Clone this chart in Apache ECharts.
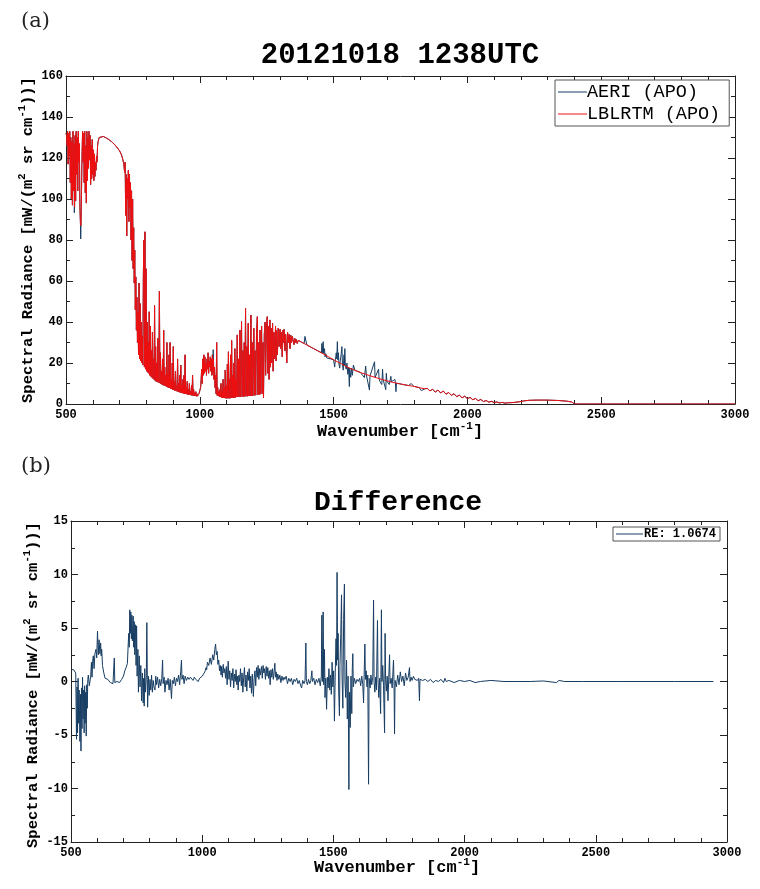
<!DOCTYPE html>
<html><head><meta charset="utf-8">
<script src="https://cdn.jsdelivr.net/npm/echarts@6/dist/echarts.min.js"></script>
<style>html,body{margin:0;padding:0;background:#fff}#c{width:760px;height:889px}</style>
</head><body><div id="c"></div>
<script>
// ---------- data ----------
const panelLabels = ['(a)', '(b)'];
const titles = ['20121018 1238UTC', 'Difference'];
const seriesNames = ['AERI (APO)', 'LBLRTM (APO)', 'RE: 1.0674'];
const xRange = [500, 3000, 500];
const yRangeTop = [0, 160, 20];
const yRangeBottom = [-15, 15, 5];

// LBLRTM simulated radiance [wavenumber, radiance]
const lblrtm = [[500,132],[502,131],[504,126],[506,133],[508,117],[510,132],[512,121],[514,133],[516,108],[518,130],[520,100],[522,128],[524,97],[526,133],[528,104],[530,127],[532,96],[534,131],[536,99],[538,133],[540,112],[542,130],[544,104],[546,133],[548,118],[550,127],[552,96],[554,88],[556,87],[558,104],[560,122],[562,133],[564,118],[566,132],[568,108],[570,133],[572,103],[574,126],[576,98],[578,133],[580,109],[582,130],[584,115],[586,133],[588,119],[590,131],[592,107],[594,126],[596,110],[598,129],[600,112],[602,124],[604,109],[606,122],[608,111],[610,118],[612,114],[614,121],[616,118],[618,126],[620,128],[624,130],[630,130.8],[640,130.5],[650,129.8],[660,129],[670,128],[680,126.8],[690,125.3],[700,123.5],[706,122],[712,119.5],[716,117],[719,113],[721,118],[723,92],[725,112],[727,82],[729,110],[731,100],[733,114],[735,89],[737,112],[739,96],[741,108],[743,80],[745,104],[747,70],[749,100],[751,66],[753,86],[755,59],[757,75],[759,46],[761,62],[763,36],[765,52],[767,30],[769,45],[771,24],[773,59],[775,22],[777,49],[779,21],[781,40],[783,20],[785,33],[787,19],[789,62],[791,80],[793,18],[795,84],[797,17],[799,66],[801,16],[803,40],[805,15.5],[807,30],[809,15],[811,45],[813,14],[815,38],[817,13.5],[819,26],[821,13],[823,35],[825,12.5],[827,22],[829,12],[831,48],[833,11.5],[835,28],[837,11],[839,20],[841,10.8],[843,32],[845,10.5],[847,18],[849,55],[851,10.2],[853,25],[855,9.8],[857,16],[859,9.5],[861,22],[863,9.2],[865,36],[867,9],[869,18],[871,8.8],[873,14],[875,8.5],[877,30],[879,8.2],[881,15],[883,8],[885,24],[887,7.8],[889,30],[891,7.5],[893,12],[895,7.3],[897,20],[899,7],[901,28],[903,6.8],[905,11],[907,6.6],[909,16],[911,6.4],[913,9],[915,6.2],[917,22],[919,6],[921,10],[923,5.8],[925,14],[927,5.6],[929,19],[931,5.4],[933,9],[935,5.3],[937,12],[939,5.2],[941,14],[943,5],[945,24],[947,4.9],[949,8],[951,4.8],[953,11],[955,4.6],[957,7],[959,4.5],[961,10],[963,4.4],[965,6],[967,4.3],[969,9],[971,4.2],[973,14],[975,4.1],[977,7],[979,4],[981,5.5],[983,3.9],[985,6],[987,3.8],[989,5],[991,3.8],[993,4.5],[995,3.9],[997,5],[1000,4.5],[1003,8],[1005,12],[1007,17],[1009,10],[1011,22],[1013,14],[1015,24],[1017,15],[1019,23],[1021,16],[1023,20],[1025,14],[1027,22],[1029,17],[1031,25],[1033,15],[1035,21],[1037,18],[1039,23],[1041,16],[1043,22],[1045,14],[1047,24],[1049,15],[1051,22],[1053,12],[1055,18],[1057,8],[1059,14],[1061,5],[1063,30],[1065,4.2],[1067,8],[1069,4],[1071,6],[1073,3.6],[1075,7],[1077,3.4],[1079,10],[1081,3.2],[1083,6],[1085,3],[1087,12],[1089,3],[1091,8],[1093,2.9],[1095,16.6],[1097,2.8],[1099,9],[1101,2.8],[1103,19.5],[1105,2.8],[1107,25.5],[1109,2.8],[1111,12],[1113,2.8],[1115,24],[1117,3],[1119,31],[1121,3],[1123,14],[1125,3],[1127,20],[1129,3.2],[1131,27],[1133,3.2],[1135,12],[1137,3.4],[1140,33.7],[1142,3.4],[1145,22],[1147,3.5],[1150,36],[1152,3.5],[1154,18],[1156,40.2],[1158,3.6],[1161,26],[1163,3.6],[1166,30],[1168,3.7],[1171,46.7],[1173,3.8],[1176,28],[1178,3.8],[1181,39.4],[1183,3.9],[1186,24],[1188,3.9],[1191,43.4],[1193,4],[1196,30],[1198,4],[1202,36.9],[1204,4.2],[1207,26],[1209,4.3],[1212,34],[1215,42.6],[1217,4.5],[1220,30],[1222,4.6],[1225,36],[1227,4.8],[1231,38],[1233,5],[1236,30],[1238,3],[1241,34],[1244,40],[1246,14],[1249,36],[1252,42.6],[1254,15],[1257,38],[1259,12],[1262,41],[1264,18],[1267,37],[1269,20],[1272,39.4],[1274,16],[1277,35],[1280,22],[1283,38],[1285,21],[1287,36],[1290,24],[1293,37],[1296,28],[1300,36.5],[1302,27],[1305,35],[1308,23],[1311,36],[1313,30],[1315,36.4],[1318,26],[1321,34],[1325,20],[1328,35],[1331,30],[1334,34],[1337,27],[1340,33.5],[1343,30],[1346,33],[1349,32.8],[1352,29],[1355,32],[1358,30],[1361,31.5],[1364,29.5],[1368,31],[1372,30.5],[1380,30.2],[1390,29.5],[1400,28.8],[1420,27.4],[1440,26],[1460,24.6],[1480,23.1],[1500,21.6],[1520,20.2],[1540,18.8],[1560,17.5],[1580,16.4],[1600,15.4],[1620,14.5],[1640,13.6],[1660,12.8],[1680,12],[1700,11.3],[1720,10.6],[1740,10],[1760,9.5],[1780,9],[1800,8.6],[1820,8],[1840,7.4],[1850,7.6],[1860,6.4],[1870,7.2],[1880,5.8],[1890,6.8],[1900,5.4],[1910,6.3],[1920,4.8],[1930,5.6],[1940,4.2],[1950,5],[1960,3.6],[1970,4.3],[1980,3],[1990,3.8],[2000,2.6],[2010,3.2],[2020,2.1],[2030,2.7],[2040,1.6],[2050,2.2],[2060,1.2],[2070,1.7],[2080,0.9],[2090,1.3],[2100,0.7],[2110,1.0],[2120,0.5],[2130,0.8],[2140,0.4],[2150,0.6],[2170,0.7],[2190,1.0],[2210,1.5],[2230,1.8],[2260,1.9],[2300,1.9],[2340,1.7],[2370,1.4],[2390,1.0],[2400,0],[3000,0]];

// AERI measured radiance: points where it departs from LBLRTM
const aeriDepartures = [[531,93.3],[555,80.5],[1050,26.5],[1393,33],[1455,25],[1456,29.5],[1458,24.8],[1461,30.4],[1463,24.5],[1466,27],[1468,23],[1471,24.5],[1474,22.5],[1504,18],[1507,21.8],[1510,25],[1512,22],[1514,30.4],[1516,21.5],[1518,25],[1520,19.5],[1523,17.5],[1525,21],[1528,24],[1531,28],[1533,19.5],[1536,16.5],[1539,24],[1542,27],[1544,18.6],[1547,17],[1550,20],[1553,14.5],[1556,18],[1559,8.5],[1561,16.5],[1564,13],[1567,17.5],[1570,14],[1574,19],[1615,12.9],[1620,18.5],[1622,14.5],[1634,6.8],[1636,13.7],[1653,20.6],[1655,12.9],[1668,17],[1670,12.4],[1673,11],[1680,9.5],[1683,17],[1685,12],[1695,7],[1697,15],[1699,11.2],[1708,9.5],[1714,13.5],[1716,10.8],[1729,12],[1731,10.3],[1733,6],[1735,10.2],[1790,10],[1828,6.5]];

// Difference AERI - LBLRTM
const difference = [[500,1.1],[505,1.1],[510,1.1],[515,1.1],[518,0.8],[521,-5.4],[523,-0.5],[525,-4.8],[527,0.3],[529,-3.9],[531,-0.8],[534,-5.6],[536,-1.2],[538,-6.5],[540,-0.6],[542,-4.4],[544,0.4],[546,-3.5],[548,-0.8],[550,-4.8],[552,-0.4],[554,-3.9],[556,-1.0],[558,-5.1],[560,-0.3],[562,-2.5],[564,0.2],[566,0.6],[570,-0.4],[575,0.5],[578,1.8],[580,0.4],[583,2.0],[585,2.4],[588,1.2],[591,2.6],[595,3.0],[598,2.2],[601,4.7],[604,2.5],[607,3.9],[610,2.6],[613,3.6],[615,2.4],[617,3.0],[620,1.5],[625,0.8],[630,0.3],[640,0.2],[650,-0.1],[660,-0.2],[665,2.2],[667,-0.1],[675,0.0],[685,-0.1],[693,0.2],[700,0.5],[705,1.0],[710,1.3],[715,1.7],[718,3.5],[720,4.5],[722,3.2],[724,6.7],[726,4.5],[728,6.5],[730,4.0],[732,6.2],[734,3.8],[737,6.1],[739,3.2],[741,5.6],[743,2.5],[746,5.3],[748,1.5],[750,5.2],[752,0.5],[755,3.0],[757,-1.0],[760,2.4],[763,-0.5],[766,1.5],[769,-1.8],[772,0.8],[775,-2.0],[777,0.3],[779,-2.3],[781,1.2],[784,-1.0],[787,0.4],[789,5.5],[791,0.2],[792,-2.4],[795,0.5],[798,-1.3],[801,0.2],[804,-0.8],[807,0.6],[810,-1.0],[813,0.1],[816,-0.5],[820,-0.8],[823,0.5],[826,-0.3],[830,0.4],[834,-0.6],[838,0.2],[842,-0.4],[846,0.3],[849,2.0],[851,-0.2],[855,0.4],[858,-1.0],[862,0.1],[866,-0.3],[870,0.3],[874,-0.8],[878,0.2],[883,-1.6],[886,0.1],[890,-0.2],[894,0.4],[898,-0.4],[902,0.3],[906,0.0],[910,0.6],[914,-0.3],[918,0.9],[921,2.0],[923,0.2],[927,0.6],[931,-0.2],[935,0.5],[940,0.1],[945,0.4],[950,0.2],[955,0.4],[960,0.3],[965,0.1],[970,0.4],[975,0.2],[980,0.3],[985,0.0],[990,0.3],[995,0.2],[1000,0.5],[1005,0.6],[1010,0.9],[1015,1.3],[1017,1.1],[1020,1.8],[1025,1.5],[1030,2.2],[1035,1.6],[1040,2.5],[1044,2.0],[1048,3.0],[1051,3.5],[1054,2.5],[1057,2.8],[1060,1.6],[1063,2.0],[1066,1.0],[1069,1.5],[1072,0.6],[1074,1.4],[1077,0.4],[1080,1.6],[1083,0.8],[1086,1.2],[1089,0.3],[1092,1.4],[1095,-0.3],[1099,1.9],[1102,0.2],[1105,1.0],[1108,-0.5],[1111,0.8],[1114,0.1],[1117,1.2],[1120,-0.6],[1123,0.7],[1126,0.0],[1129,1.1],[1132,-0.3],[1135,0.5],[1137,-0.8],[1140,0.6],[1143,0.0],[1146,1.2],[1149,-0.4],[1152,0.8],[1155,-1.0],[1158,0.4],[1161,1.3],[1164,-0.5],[1167,0.6],[1170,-0.9],[1173,0.9],[1176,0.1],[1179,1.2],[1182,-0.6],[1185,0.5],[1188,-1.1],[1191,0.7],[1195,-1.4],[1198,0.3],[1201,1.0],[1204,-0.4],[1207,1.3],[1210,0.4],[1213,1.5],[1216,0.2],[1219,1.2],[1222,0.6],[1226,1.4],[1229,0.3],[1232,1.5],[1235,0.8],[1238,1.2],[1241,0.2],[1244,1.4],[1247,0.5],[1250,1.3],[1253,0.3],[1256,1.0],[1259,-0.3],[1262,1.1],[1265,0.4],[1268,1.2],[1271,0.2],[1274,0.9],[1277,1.7],[1279,0.4],[1282,0.9],[1285,0.1],[1288,0.7],[1292,0.2],[1296,0.6],[1300,-0.1],[1304,0.5],[1308,0.1],[1312,0.4],[1315,0.2],[1320,0.5],[1325,-0.2],[1330,0.3],[1335,0.0],[1340,0.3],[1345,-0.3],[1350,0.2],[1355,0.0],[1360,0.3],[1365,-0.2],[1370,0.1],[1375,-0.4],[1379,-0.6],[1383,0.1],[1388,-0.2],[1392,0.1],[1395,3.6],[1397,0.0],[1401,-0.3],[1405,0.2],[1410,-0.2],[1414,0.1],[1418,1.0],[1420,0.0],[1425,0.3],[1430,-0.3],[1435,0.2],[1440,-0.1],[1445,0.3],[1450,-0.4],[1454,0.5],[1456,6.2],[1458,0.0],[1461,6.5],[1463,-0.3],[1466,3.0],[1468,-1.5],[1471,0.3],[1474,-2.6],[1477,0.4],[1480,-0.6],[1483,1.2],[1486,-0.8],[1489,0.6],[1492,-1.2],[1495,1.8],[1498,-0.5],[1501,1.0],[1504,-3.7],[1507,0.8],[1510,4.0],[1512,1.5],[1514,10.2],[1516,2.0],[1518,4.5],[1520,-0.8],[1523,-3.2],[1525,1.5],[1528,4.4],[1531,8.1],[1533,0.5],[1536,-2.5],[1539,5.8],[1542,9.1],[1544,0.0],[1547,-1.5],[1550,2.0],[1553,-3.5],[1556,0.5],[1559,-10.1],[1561,-1.0],[1564,-4.3],[1567,0.5],[1570,-3.0],[1572,1.2],[1574,2.6],[1576,-0.5],[1580,0.3],[1585,-0.2],[1590,0.2],[1595,0.0],[1600,0.3],[1604,-0.4],[1608,0.5],[1612,-0.3],[1615,-2.0],[1617,0.4],[1620,3.5],[1622,0.2],[1625,1.0],[1628,-0.5],[1631,0.6],[1634,-9.6],[1636,0.3],[1640,-0.6],[1643,0.6],[1646,-0.3],[1650,0.4],[1653,7.6],[1655,0.0],[1658,-1.0],[1661,0.4],[1664,-0.8],[1668,5.7],[1670,0.2],[1673,-1.5],[1676,0.3],[1680,-3.0],[1683,6.7],[1685,0.0],[1688,1.5],[1691,-0.4],[1695,-4.8],[1697,4.5],[1699,0.2],[1702,-0.9],[1705,0.5],[1708,-1.8],[1711,0.4],[1714,2.5],[1716,-0.2],[1720,0.3],[1724,-0.6],[1729,2.0],[1731,0.0],[1733,-4.9],[1735,0.1],[1740,-0.5],[1745,0.6],[1750,-0.3],[1755,0.9],[1760,0.0],[1765,0.5],[1770,-0.4],[1775,0.8],[1780,0.1],[1785,0.4],[1790,1.3],[1792,0.0],[1796,0.4],[1800,0.1],[1805,0.5],[1810,0.2],[1815,0.3],[1820,0.1],[1825,0.3],[1828,-1.8],[1830,0.2],[1840,0.1],[1850,0.2],[1860,0.0],[1870,0.2],[1880,-0.1],[1890,0.1],[1900,0.0],[1910,0.2],[1920,-0.1],[1925,0.3],[1930,0.0],[1940,0.1],[1960,-0.1],[1980,0.1],[2000,0.0],[2020,0.1],[2040,-0.1],[2060,0.0],[2100,0.1],[2150,0.0],[2200,0.0],[2250,0.0],[2300,0.05],[2350,-0.1],[2360,0.1],[2380,0.0],[2450,0.0],[2600,0.0],[2800,0.0],[2948,0.0]];

// ---------- build ----------
function withDepartures(base, dep) {
  const m = new Map(base.map(p => [p[0], p[1]]));
  dep.forEach(p => m.set(p[0], p[1]));
  return Array.from(m.entries()).sort((a, b) => a[0] - b[0]);
}
const aeri = withDepartures(lblrtm, aeriDepartures);

const MONO = '"Liberation Mono", "DejaVu Sans Mono", monospace';
const AX = '#222';
function axis(o) {
  const base = {
    type: 'value',
    axisLine: { show: true, onZero: false, lineStyle: { color: AX, width: 1 } },
    axisTick: { show: true, inside: true, length: 7, lineStyle: { color: AX, width: 1 } },
    splitLine: { show: false },
    minorSplitLine: { show: false },
    axisLabel: { show: true, fontFamily: MONO, fontWeight: 'bold', fontSize: 12, color: '#000', margin: 4, formatter: v => String(v) }
  };
  const r = Object.assign(base, o);
  r.minorTick = { show: true, splitNumber: o.minor, length: 4, lineStyle: { color: AX, width: 1 } };
  delete r.minor;
  if (o.noLabel) { r.axisLabel = { show: false }; delete r.noLabel; }
  return r;
}

const xAxes = [
  axis({ gridIndex: 0, position: 'bottom', min: xRange[0], max: xRange[1], interval: xRange[2], minor: 5 }),
  axis({ gridIndex: 0, position: 'top', min: xRange[0], max: xRange[1], interval: xRange[2], minor: 5, noLabel: true }),
  axis({ gridIndex: 1, position: 'bottom', min: xRange[0], max: xRange[1], interval: xRange[2], minor: 5 }),
  axis({ gridIndex: 1, position: 'top', min: xRange[0], max: xRange[1], interval: xRange[2], minor: 5, noLabel: true })
];
const yAxes = [
  axis({ gridIndex: 0, position: 'left', min: yRangeTop[0], max: yRangeTop[1], interval: yRangeTop[2], minor: 2 }),
  axis({ gridIndex: 0, position: 'right', min: yRangeTop[0], max: yRangeTop[1], interval: yRangeTop[2], minor: 2, noLabel: true }),
  axis({ gridIndex: 1, position: 'left', min: yRangeBottom[0], max: yRangeBottom[1], interval: yRangeBottom[2], minor: 2 }),
  axis({ gridIndex: 1, position: 'right', min: yRangeBottom[0], max: yRangeBottom[1], interval: yRangeBottom[2], minor: 2, noLabel: true })
];
yAxes[0].axisLabel.margin = 3;
yAxes[2].axisLabel.margin = 3;
xAxes[0].axisLabel.margin = 5;
xAxes[2].axisLabel.margin = 5;

function richName(size, supSize) {
  return {
    t: { fontFamily: MONO, fontWeight: 'bold', fontSize: size, lineHeight: size + 6, color: '#000' },
    s: { fontFamily: MONO, fontWeight: 'bold', fontSize: supSize, lineHeight: supSize, verticalAlign: 'top', color: '#000' }
  };
}
const yNameText = '{t|Spectral Radiance [mW/(m}{s|2}{t| sr cm}{s|-1}{t|))]}';
const xNameText = '{t|Wavenumber [cm}{s|-1}{t|]}';

const BLUE = '#173d63';
const RED = '#f01010';

const option = {
  animation: false,
  backgroundColor: '#fff',
  grid: [
    { left: 66, top: 76, width: 669, height: 328, containLabel: false },
    { left: 71, top: 521, width: 656, height: 321, containLabel: false }
  ],
  xAxis: xAxes,
  yAxis: yAxes,
  legend: [
    {
      data: [seriesNames[0], seriesNames[1]], orient: 'vertical', left: 555, top: 80,
      borderColor: '#555', borderWidth: 1, backgroundColor: '#fff', padding: [2, 9, 2, 3],
      itemGap: 2, itemWidth: 29, itemHeight: 1, icon: 'rect', selectedMode: false,
      textStyle: { fontFamily: MONO, fontSize: 18.5, color: '#000', padding: [0, 0, 0, -5], lineHeight: 20 }
    },
    {
      data: [seriesNames[2]], left: 613, top: 527, icon: 'rect',
      borderColor: '#555', borderWidth: 1, backgroundColor: '#fff', padding: [1, 4, 1, 3],
      itemWidth: 27, itemHeight: 1, selectedMode: false,
      textStyle: { fontFamily: MONO, fontWeight: 'bold', fontSize: 12, color: '#000', padding: [0, 0, 0, -4] }
    }
  ],
  series: [
    { name: seriesNames[0], type: 'line', xAxisIndex: 0, yAxisIndex: 0, data: aeri, symbol: 'none', showSymbol: false,
      lineStyle: { color: BLUE, width: 1 }, itemStyle: { color: BLUE }, z: 2 },
    { name: seriesNames[1], type: 'line', xAxisIndex: 0, yAxisIndex: 0, data: lblrtm, symbol: 'none', showSymbol: false,
      lineStyle: { color: RED, width: 1 }, itemStyle: { color: RED }, z: 3 },
    { name: seriesNames[2], type: 'line', xAxisIndex: 2, yAxisIndex: 2, data: difference, symbol: 'none', showSymbol: false,
      lineStyle: { color: BLUE, width: 1 }, itemStyle: { color: BLUE }, z: 2 }
  ],
  graphic: [
    { type: 'text', left: 21, top: 11, style: { text: panelLabels[0], font: '21px "DejaVu Serif", serif', fill: '#222' } },
    { type: 'text', left: 21, top: 456, style: { text: panelLabels[1], font: '21px "DejaVu Serif", serif', fill: '#222' } },
    { type: 'text', x: 400, y: 56, style: { text: titles[0], font: 'bold 29px ' + MONO, fill: '#000', align: 'center', verticalAlign: 'middle' } },
    { type: 'text', x: 398, y: 503, style: { text: titles[1], font: 'bold 28px ' + MONO, fill: '#000', align: 'center', verticalAlign: 'middle' } },
    { type: 'text', x: 400, y: 432, style: { text: xNameText, rich: richName(17, 11), align: 'center', verticalAlign: 'middle' } },
    { type: 'text', x: 397, y: 868, style: { text: xNameText, rich: richName(17, 11), align: 'center', verticalAlign: 'middle' } },
    { type: 'text', x: 28, y: 240, rotation: Math.PI / 2, style: { text: yNameText, rich: richName(15.5, 10.5), align: 'center', verticalAlign: 'middle' } },
    { type: 'text', x: 33, y: 685, rotation: Math.PI / 2, style: { text: yNameText, rich: richName(15.5, 10.5), align: 'center', verticalAlign: 'middle' } }
  ]
};

const chart = echarts.init(document.getElementById('c'), null, { renderer: 'canvas', width: 760, height: 889 });
chart.setOption(option);
</script>
</body></html>
